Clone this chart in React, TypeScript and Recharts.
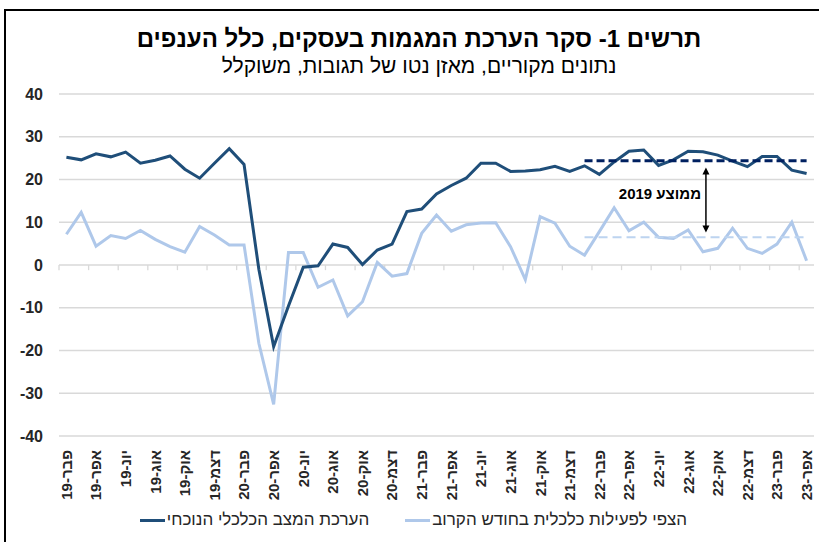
import React from 'react';
import { LineChart, Line, XAxis, YAxis, CartesianGrid, ReferenceLine, Legend } from 'recharts';

const months = [
  'פבר-19', 'מרץ-19', 'אפר-19', 'מאי-19', 'יונ-19', 'יול-19', 'אוג-19', 'ספט-19', 'אוק-19', 'נוב-19', 'דצמ-19',
  'ינו-20', 'פבר-20', 'מרץ-20', 'אפר-20', 'מאי-20', 'יונ-20', 'יול-20', 'אוג-20', 'ספט-20', 'אוק-20', 'נוב-20', 'דצמ-20',
  'ינו-21', 'פבר-21', 'מרץ-21', 'אפר-21', 'מאי-21', 'יונ-21', 'יול-21', 'אוג-21', 'ספט-21', 'אוק-21', 'נוב-21', 'דצמ-21',
  'ינו-22', 'פבר-22', 'מרץ-22', 'אפר-22', 'מאי-22', 'יונ-22', 'יול-22', 'אוג-22', 'ספט-22', 'אוק-22', 'נוב-22', 'דצמ-22',
  'ינו-23', 'פבר-23', 'מרץ-23', 'אפר-23',
];

const currentSituation = [
  25.2, 24.6, 26.0, 25.3, 26.4, 23.8, 24.5, 25.5, 22.4, 20.3, 23.8,
  27.2, 23.5, -1.0, -19.1, -9.6, -0.5, -0.2, 4.9, 4.1, 0.1, 3.5, 4.9,
  12.5, 13.1, 16.6, 18.6, 20.3, 23.8, 23.8, 21.9, 22.0, 22.3, 23.1, 21.9,
  23.2, 21.2, 24.1, 26.6, 26.9, 23.3, 24.6, 26.6, 26.5, 25.7, 24.3, 23.0,
  25.4, 25.4, 22.2, 21.4,
];

const nextMonthExpected = [
  7.2, 12.3, 4.4, 6.9, 6.2, 8.1, 6.0, 4.3, 3.0, 9.0, 7.0,
  4.7, 4.7, -18.3, -32.6, 2.9, 2.9, -5.2, -3.5, -11.9, -8.6, 0.6, -2.6,
  -2.0, 7.4, 11.7, 7.9, 9.4, 9.8, 9.9, 4.3, -3.4, 11.3, 9.8, 4.4,
  2.3, 7.8, 13.4, 8.0, 10.0, 6.5, 6.2, 8.2, 3.1, 3.9, 8.6, 3.9,
  2.7, 4.9, 10.0, 1.0,
];

const avg2019Current = 24.4;
const avg2019Expected = 6.5;
const avgStartIndex = 35;

const yTicks = [-40, -30, -20, -10, 0, 10, 20, 30, 40];
const labelTicks = months.map((_, i) => i).filter((i) => i % 2 === 0);
const tickMarks = months.map((_, i) => i - 0.5).filter((_, i) => i % 2 === 0);

const arrowX = 43.2;
const arrowTop = 22.8;
const arrowBottom = 7.6;

const title = 'תרשים 1- סקר הערכת המגמות בעסקים, כלל הענפים';
const subtitle = 'נתונים מקוריים, מאזן נטו של תגובות, משוקלל';
const seriesNames = ['הערכת המצב הכלכלי הנוכחי', 'הצפי לפעילות כלכלית בחודש הקרוב'];
const avgLabel = 'ממוצע 2019';

const DARK = '#1F4E79';
const LIGHT = '#AFC8EA';
const NAVY = '#002060';
const LIGHT_DASH = '#BDD4F0';

const data = months.map((m, i) => ({
  idx: i,
  month: m,
  current: currentSituation[i],
  expected: nextMonthExpected[i],
  avgCurrent: i >= avgStartIndex ? avg2019Current : null,
  avgExpected: i >= avgStartIndex ? avg2019Expected : null,
}));

const FONT = '"Liberation Sans", Arial, sans-serif';

const XTick = (props: any) => {
  const { x, y, payload } = props;
  const label = months[payload.value];
  return (
    <g transform={`translate(${x},${y + 14})`}>
      <text
        transform="rotate(-90)"
        x={0}
        y={0}
        dy="0.36em"
        textAnchor="end"
        fontFamily={FONT}
        fontWeight="bold"
        fontSize={15}
        fill="#262626"
      >
        {label}
      </text>
    </g>
  );
};

const YTick = (props: any) => {
  const { x, y, payload } = props;
  return (
    <text x={x - 8} y={y} dy="0.35em" textAnchor="end" fontFamily={FONT} fontWeight="bold" fontSize={16} fill="#262626">
      {payload.value}
    </text>
  );
};

const ArrowShape = (props: any) => {
  const { x1, y1, y2 } = props;
  const top = Math.min(y1, y2);
  const bot = Math.max(y1, y2);
  const h = 7;
  const w = 3.5;
  return (
    <g>
      <line x1={x1} y1={top + h - 1} x2={x1} y2={bot - h + 1} stroke="#000" strokeWidth={1.5} />
      <polygon points={`${x1},${top} ${x1 - w},${top + h} ${x1 + w},${top + h}`} fill="#000" />
      <polygon points={`${x1},${bot} ${x1 - w},${bot - h} ${x1 + w},${bot - h}`} fill="#000" />
      <text
        x={x1 - 46}
        y={(top + bot) / 2 - 6}
        dy="0.35em"
        textAnchor="middle"
        direction="rtl"
        fontFamily={FONT}
        fontWeight="bold"
        fontSize={15}
        fill="#000"
      >
        {avgLabel}
      </text>
    </g>
  );
};

const LegendContent = () => (
  <div
    style={{
      display: 'flex',
      justifyContent: 'center',
      alignItems: 'center',
      gap: 36,
      height: 24,
      fontFamily: FONT,
      fontSize: 17,
      color: '#262626',
      paddingLeft: 4,
    }}
  >
    {[DARK, LIGHT].map((c, i) => (
      <div key={i} style={{ display: 'flex', alignItems: 'center' }}>
        <div style={{ width: 25, height: 3, background: c, marginRight: 2 }} />
        <span dir="rtl">{seriesNames[i]}</span>
      </div>
    ))}
  </div>
);

export default function App() {
  return (
    <div style={{ position: 'absolute', left: 0, top: 0, width: 819, height: 542, overflow: 'hidden', background: '#fff' }}>
      <div
        style={{
          position: 'absolute',
          left: 4,
          top: 9,
          width: 840,
          height: 560,
          border: '2px solid #000',
          boxSizing: 'border-box',
        }}
      />
      <div
        dir="rtl"
        style={{
          position: 'absolute',
          left: 0,
          width: 838,
          top: 25,
          textAlign: 'center',
          fontFamily: FONT,
          fontWeight: 'bold',
          fontSize: 24,
          lineHeight: '28px',
          color: '#000',
        }}
      >
        {title}
      </div>
      <div
        dir="rtl"
        style={{
          position: 'absolute',
          left: 0,
          width: 838,
          top: 54,
          textAlign: 'center',
          fontFamily: FONT,
          fontSize: 21,
          lineHeight: '24px',
          color: '#000',
        }}
      >
        {subtitle}
      </div>
      <div style={{ position: 'absolute', left: 0, top: 0 }}>
        <LineChart width={819} height={542} data={data} margin={{ top: 94, right: 5, bottom: 10, left: 9 }}>
          <CartesianGrid vertical={false} stroke="#D9D9D9" strokeWidth={1.3} />
          <XAxis
            dataKey="idx"
            type="number"
            domain={[-0.5, 50.5]}
            ticks={labelTicks}
            interval={0}
            tick={<XTick />}
            axisLine={false}
            tickLine={false}
            tickSize={0}
            tickMargin={0}
            height={72}
            allowDataOverflow
          />
          <YAxis
            domain={[-40, 40]}
            ticks={yTicks}
            tick={<YTick />}
            axisLine={false}
            tickLine={false}
            width={50}
            interval={0}
          />
          {tickMarks.map((t) => (
            <ReferenceLine
              key={t}
              segment={[
                { x: t, y: 0 },
                { x: t, y: -1.2 },
              ]}
              stroke="#D9D9D9"
              strokeWidth={1.3}
            />
          ))}
          <Line dataKey="expected" stroke={LIGHT} strokeWidth={3} dot={false} isAnimationActive={false} legendType="none" />
          <Line dataKey="current" stroke={DARK} strokeWidth={3} dot={false} isAnimationActive={false} legendType="none" />
          <Line
            dataKey="avgExpected"
            stroke={LIGHT_DASH}
            strokeWidth={2}
            strokeDasharray="9 5"
            dot={false}
            isAnimationActive={false}
            legendType="none"
          />
          <Line
            dataKey="avgCurrent"
            stroke={NAVY}
            strokeWidth={3}
            strokeDasharray="8 4"
            dot={false}
            isAnimationActive={false}
            legendType="none"
          />
          <ReferenceLine
            segment={[
              { x: arrowX, y: arrowTop },
              { x: arrowX, y: arrowBottom },
            ]}
            shape={<ArrowShape />}
          />
          <Legend verticalAlign="bottom" content={<LegendContent />} />
        </LineChart>
      </div>
    </div>
  );
}
